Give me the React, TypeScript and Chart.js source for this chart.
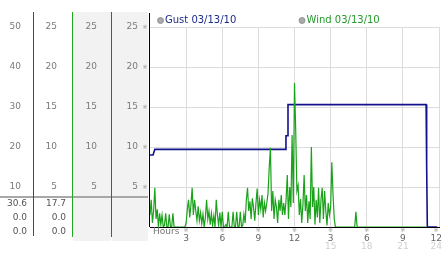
import { useEffect, useRef } from 'react';
import { Chart, registerables } from 'chart.js';

Chart.register(...registerables);

const W = 442;
const H = 253;

// Series labels
const seriesLabels = ['Gust 03/13/10', 'Wind 03/13/10'];

// Gust (step line) – hours and values
const gustHours = [0, 0.25, 0.4, 11.26, 11.29, 11.38, 11.46, 22.93, 22.95, 23.0, 23.03, 23.85];
const gustValues = [9.0, 9.0, 9.7, 9.7, 11.4, 11.4, 15.3, 15.3, 7.7, 7.7, 0, 0];

// Wind samples every 0.1 hour starting at hour 0
const windStepHours = 0.1;
const windValues = [
  1.5, 3.4, 0.5, 2.0, 4.9, 1.0, 2.2, 0, 1.7, 0.3,
  1.5, 0, 0.2, 1.7, 0, 0, 1.6, 0, 0, 1.7,
  0, 0, 0, 0, 0, 0, 0, 0, 0, 0,
  0.5, 2.2, 3.4, 1.2, 2.8, 4.9, 1.5, 3.4, 2.0, 0.8,
  2.6, 0.8, 1.8, 0.4, 1.6, 0, 1.2, 3.4, 1.0, 2.0,
  0.3, 1.7, 0.2, 1.4, 0, 3.4, 1.5, 0.2, 1.8, 0,
  1.9, 0, 0, 0.3, 0, 1.9, 0, 0, 0, 1.9,
  0, 0, 1.9, 0, 0, 1.9, 0, 0.2, 1.6, 0.5,
  3.4, 4.9, 2.0, 3.2, 1.0, 3.6, 2.4, 0.8, 3.0, 4.8,
  1.5, 3.4, 2.2, 4.0, 1.2, 3.0, 2.0, 3.0, 4.2, 7.4,
  9.9, 2.0, 4.5, 1.0, 3.4, 2.5, 0.5, 3.4, 2.0, 4.0,
  1.5, 3.0, 1.5, 3.4, 6.5, 1.0, 5.0, 2.5, 11.5, 3.0,
  18.0, 12.1, 4.5, 5.2, 1.5, 3.5, 0.5, 2.8, 6.5, 2.0,
  4.0, 0.5, 3.2, 1.0, 10.0, 2.5, 5.0, 0.3, 3.4, 1.2,
  4.9, 0.5, 3.4, 4.9, 1.0, 4.5, 2.0, 0.2, 3.0, 1.5,
  2.5, 8.1, 4.0, 1.0, 0, 0, 0, 0, 0, 0,
  0, 0, 0, 0, 0, 0, 0, 0, 0, 0,
  0, 1.9, 0,
];
const windEndHour = 22.95;

// X axis ticks
const hourTicks = [3, 6, 9, 12, 15, 18, 21, 24];
const hourLabels = ['3', '6', '9', '12', '3', '6', '9', '12'];
const hour24Ticks = [15, 18, 21, 24];

// Current readings in the left panel
const gustNow = ['30.6', '0.0', '0.0'];
const windNow = ['17.7', '0.0', '0.0'];

const FONT = 'DejaVu Sans';
const NB = '\u00a0\u00a0';

export default function App() {
  const ref = useRef<HTMLCanvasElement>(null);

  useEffect(() => {
    const gustPoints = gustHours.map((h, i) => ({ x: h, y: gustValues[i] }));
    const windPoints = windValues.map((v, i) => ({ x: i * windStepHours, y: v }));
    windPoints.push({ x: windEndHour, y: 0 });

    const panelPlugin = {
      id: 'panel',
      beforeDraw(chart: any) {
        const ctx = chart.ctx as CanvasRenderingContext2D;
        ctx.save();
        ctx.fillStyle = '#ffffff';
        ctx.fillRect(0, 0, W, H);
        ctx.fillStyle = '#f2f2f2';
        ctx.fillRect(73, 12, 38, 229);
        ctx.fillRect(112, 12, 36, 229);
        ctx.fillStyle = '#a8a8a8';
        ctx.fillRect(0, 196, 148, 2);
        const lines: [number, string, number][] = [
          [33, '#2244cc', 236],
          [72, '#22aa22', 237],
          [111, '#cc2222', 237],
        ];
        for (const [x, c, b] of lines) {
          ctx.fillStyle = c;
          ctx.fillRect(x, 12, 1, b - 12);
        }
        ctx.restore();
      },
      afterDraw(chart: any) {
        const ctx = chart.ctx as CanvasRenderingContext2D;
        const area = chart.chartArea;
        const xs = chart.scales.x;
        const ys = chart.scales.y;
        ctx.save();
        // black left axis line
        ctx.fillStyle = '#000';
        ctx.fillRect(area.left - 1, 13, 1, area.bottom - 13);

        // markers
        ctx.fillStyle = '#999';
        ctx.font = `6px ${FONT}`;
        ctx.textAlign = 'center';
        ctx.textBaseline = 'middle';
        for (const v of [5, 10, 15, 20, 25]) {
          ctx.fillText('※', 145, ys.getPixelForValue(v));
        }
        for (const h of hourTicks) {
          ctx.fillText('※', Math.min(xs.getPixelForValue(h), 436), 230);
        }

        // Hours
        ctx.fillStyle = '#777';
        ctx.font = `9px ${FONT}`;
        ctx.textAlign = 'left';
        ctx.fillText('Hours', 153, 232);

        // current values
        ctx.fillStyle = '#555';
        ctx.textAlign = 'right';
        const rowsY = [204, 218, 232];
        gustNow.forEach((t, i) => ctx.fillText(t, 27, rowsY[i]));
        windNow.forEach((t, i) => ctx.fillText(t, 66, rowsY[i]));

        // legend
        const legend: [number, string, string][] = [
          [160.5, seriesLabels[0], '#1c2a8c'],
          [302, seriesLabels[1], '#22992a'],
        ];
        ctx.font = `10px ${FONT}`;
        ctx.textAlign = 'left';
        for (const [x, label, color] of legend) {
          ctx.beginPath();
          ctx.arc(x, 20.5, 3, 0, Math.PI * 2);
          ctx.fillStyle = '#aaa';
          ctx.fill();
          ctx.strokeStyle = '#888';
          ctx.lineWidth = 0.8;
          ctx.stroke();
          ctx.fillStyle = color;
          ctx.fillText(label, x + 4.5, 20.5);
        }
        ctx.restore();
      },
    };

    const tickFont = { family: FONT, size: 9 };
    const panelAxis = (weight: number, max: number, step: number, width: number, padding: number) => ({
      type: 'linear' as const,
      position: 'left' as const,
      weight,
      min: 0,
      max,
      ticks: {
        stepSize: step,
        padding,
        color: '#7a7a7a',
        font: tickFont,
        callback: (v: any) => (v === 0 ? '' : String(v)),
      },
      grid: { display: false, drawTicks: false },
      border: { display: false },
      afterFit: (s: any) => {
        s.width = width;
        s.paddingTop = 0;
        s.paddingBottom = 0;
      },
    });

    const chart = new Chart(ref.current!, {
      type: 'line',
      data: {
        datasets: [
          {
            label: 'Wind',
            data: windPoints,
            borderColor: '#1aa31a',
            borderWidth: 1.2,
            pointRadius: 0,
            tension: 0,
            order: 0,
            xAxisID: 'x',
            yAxisID: 'y',
          },
          {
            label: 'Gust',
            data: gustPoints,
            borderColor: '#12128c',
            borderWidth: 1.6,
            pointRadius: 0,
            tension: 0,
            order: 1,
            xAxisID: 'x',
            yAxisID: 'y',
          },
        ],
      },
      options: {
        responsive: false,
        animation: false,
        devicePixelRatio: 1,
        layout: { padding: { top: 27, right: 3, bottom: 0, left: 0 } },
        plugins: { legend: { display: false }, tooltip: { enabled: false }, title: { display: false } },
        scales: {
          x: {
            type: 'linear',
            position: 'bottom',
            weight: 0,
            min: 0,
            max: 24,
            afterBuildTicks: (s: any) => {
              s.ticks = hourTicks.map((v) => ({ value: v }));
            },
            ticks: {
              color: '#666',
              font: tickFont,
              padding: 6,
              maxRotation: 0,
              autoSkip: false,
              callback: (v: any) => {
                const l = hourLabels[hourTicks.indexOf(v)] ?? '';
                return v === 24 ? l + NB : l;
              },
            },
            grid: { color: '#dcdcdc', drawTicks: false },
            border: { color: '#000', width: 1 },
            afterFit: (s: any) => {
              s.height = 14;
              s.paddingLeft = 0;
              s.paddingRight = 0;
            },
          },
          x2: {
            type: 'linear',
            position: 'bottom',
            weight: 1,
            min: 0,
            max: 24,
            afterBuildTicks: (s: any) => {
              s.ticks = hour24Ticks.map((v) => ({ value: v }));
            },
            ticks: {
              color: '#cfcfcf',
              font: tickFont,
              padding: 0,
              maxRotation: 0,
              autoSkip: false,
              callback: (v: any) => (v === 24 ? String(v) + NB : String(v)),
            },
            grid: { display: false, drawTicks: false },
            border: { display: false },
            afterFit: (s: any) => {
              s.height = 12;
              s.paddingLeft = 0;
              s.paddingRight = 0;
            },
          },
          y: {
            type: 'linear',
            position: 'left',
            weight: 0,
            min: 0,
            max: 25,
            ticks: {
              stepSize: 5,
              padding: 12,
              color: '#7a7a7a',
              font: tickFont,
              callback: (v: any) => (v === 0 ? '' : String(v)),
            },
            grid: { color: '#dcdcdc', drawTicks: false },
            border: { display: false },
            afterFit: (s: any) => {
              s.width = 39;
              s.paddingTop = 0;
              s.paddingBottom = 0;
            },
          },
          yC: panelAxis(1, 25, 5, 39, 14),
          yB: panelAxis(2, 25, 5, 39, 15),
          yA: panelAxis(3, 50, 10, 33, 12),
        } as any,
      },
      plugins: [panelPlugin],
    });
    return () => chart.destroy();
  }, []);

  return (
    <div style={{ position: 'fixed', left: 0, top: 0, width: W, height: H, background: '#fff' }}>
      <canvas ref={ref} width={W} height={H} style={{ display: 'block', width: W, height: H }} />
    </div>
  );
}
